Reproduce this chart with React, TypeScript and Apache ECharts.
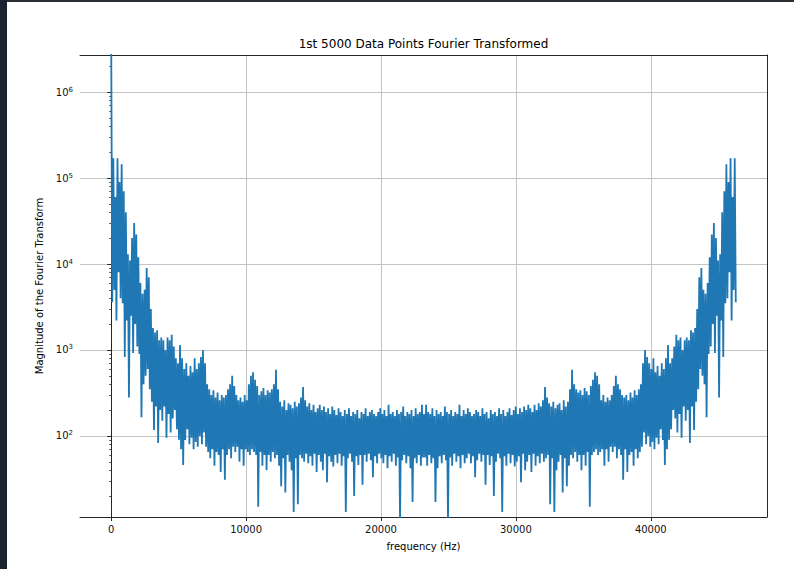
import React, { useEffect, useRef } from "react";
import * as echarts from "echarts";

// Frequency resolution of one FFT bin (Hz); bin i sits at i * BIN_HZ
const BIN_HZ = 46300 / 599;

// |FFT| magnitudes, bin 0 (DC) .. 599
const spectrumBins0to99 = [
  3500000, 3600, 170000, 5000, 60000, 2200, 170000, 8000, 90000, 4000,
  145000, 3500, 70000, 830, 40000, 2200, 13000, 280, 11000, 2500,
  20000, 920, 30000, 2000, 22000, 1100, 12000, 900, 6000, 165,
  4500, 400, 5000, 500, 9000, 600, 7000, 350, 3000, 250,
  1800, 117, 1600, 220, 1700, 83, 1300, 200, 1400, 150,
  1300, 220, 1000, 95, 1400, 180, 1300, 110, 1500, 160,
  1100, 200, 800, 120, 700, 90, 1140, 70, 800, 46,
  600, 90, 700, 120, 500, 80, 650, 95, 550, 70,
  800, 85, 600, 75, 700, 100, 830, 80, 1000, 110,
  700, 75, 400, 65, 350, 55, 300, 70, 340, 45,
];
const spectrumBins100to199 = [
  280, 65, 320, 60, 260, 38, 300, 70, 280, 31,
  300, 60, 350, 70, 400, 55, 500, 75, 380, 65,
  300, 75, 260, 50, 280, 70, 250, 45, 300, 70,
  260, 65, 400, 60, 500, 70, 550, 65, 450, 60,
  380, 15, 300, 65, 330, 45, 360, 60, 300, 40,
  340, 60, 320, 50, 350, 65, 400, 55, 590, 60,
  350, 45, 250, 26, 220, 55, 260, 22, 200, 60,
  240, 50, 230, 40, 210, 13, 250, 55, 220, 16,
  240, 60, 280, 55, 370, 50, 260, 62, 220, 48,
  240, 58, 200, 45, 230, 62, 190, 38, 210, 60,
];
const spectrumBins200to300 = [
  230, 50, 200, 40, 220, 62, 190, 29, 210, 58,
  180, 50, 220, 44, 200, 60, 175, 48, 210, 62,
  190, 45, 170, 58, 200, 13, 180, 55, 210, 62,
  170, 50, 190, 20, 180, 58, 200, 46, 160, 60,
  190, 27, 180, 60, 210, 50, 170, 62, 190, 52,
  200, 33, 180, 58, 170, 48, 190, 62, 210, 55,
  180, 48, 200, 60, 170, 42, 230, 58, 180, 50,
  190, 62, 170, 45, 200, 56, 180, 10, 190, 52,
  220, 60, 170, 48, 190, 58, 180, 42, 200, 17,
  170, 55, 210, 48, 180, 60, 190, 45, 230, 56,
  180,
];
const spectrumBins301to400 = [
  56, 230, 45, 190, 60, 180, 48, 210, 55, 170,
  17, 200, 42, 180, 58, 190, 48, 170, 60, 220,
  52, 190, 10, 180, 56, 200, 45, 170, 62, 190,
  50, 180, 58, 230, 42, 170, 60, 200, 48, 180,
  55, 210, 62, 190, 48, 170, 58, 180, 33, 200,
  52, 190, 62, 170, 50, 210, 60, 180, 27, 190,
  60, 160, 46, 200, 58, 180, 20, 190, 50, 170,
  62, 210, 55, 180, 13, 200, 58, 170, 45, 190,
  62, 210, 48, 175, 60, 200, 44, 220, 50, 180,
  58, 210, 29, 190, 62, 220, 40, 200, 50, 230,
];
const spectrumBins401to500 = [
  60, 210, 38, 190, 62, 230, 45, 200, 58, 240,
  48, 220, 62, 260, 50, 370, 55, 280, 60, 240,
  16, 220, 55, 250, 13, 210, 40, 230, 50, 240,
  60, 200, 22, 260, 55, 220, 26, 250, 45, 350,
  60, 590, 55, 400, 65, 350, 50, 320, 60, 340,
  40, 300, 60, 360, 45, 330, 65, 300, 15, 380,
  60, 450, 65, 550, 70, 500, 60, 400, 65, 260,
  70, 300, 45, 250, 70, 280, 50, 260, 75, 300,
  65, 380, 75, 500, 55, 400, 70, 350, 60, 300,
  31, 280, 70, 300, 38, 260, 60, 320, 65, 280,
];
const spectrumBins501to599 = [
  45, 340, 70, 300, 55, 350, 65, 400, 75, 700,
  110, 1000, 80, 830, 100, 700, 75, 600, 85, 800,
  70, 550, 95, 650, 80, 500, 120, 700, 90, 600,
  46, 800, 70, 1140, 90, 700, 120, 800, 200, 1100,
  160, 1500, 110, 1300, 180, 1400, 95, 1000, 220, 1300,
  150, 1400, 200, 1300, 83, 1700, 220, 1600, 117, 1800,
  250, 3000, 350, 7000, 600, 9000, 500, 5000, 400, 4500,
  165, 6000, 900, 12000, 1100, 22000, 2000, 30000, 920, 20000,
  2500, 11000, 280, 13000, 2200, 40000, 830, 70000, 3500, 145000,
  4000, 90000, 8000, 170000, 2200, 60000, 5000, 170000, 3600,
];

const X_TICKS = [0, 10000, 20000, 30000, 40000];
const X_RANGE = [-2315, 48615];
const Y_TICKS = [100, 1000, 10000, 100000, 1000000];
const Y_MINOR_TICKS = [
  20, 30, 40, 50, 60, 70, 80, 90,
  200, 300, 400, 500, 600, 700, 800, 900,
  2000, 3000, 4000, 5000, 6000, 7000, 8000, 9000,
  20000, 30000, 40000, 50000, 60000, 70000, 80000, 90000,
  200000, 300000, 400000, 500000, 600000, 700000, 800000, 900000,
  2000000,
];
const Y_RANGE = [11.4, 2700000];

const TITLE = "1st 5000 Data Points Fourier Transformed";
const X_NAME = "frequency (Hz)";
const Y_NAME = "Magnitude of the Fourier Transform";

const FONT = "DejaVu Sans";

export default function App() {
  const ref = useRef<HTMLDivElement>(null);

  useEffect(() => {
    if (!ref.current) return;
    const chart = echarts.init(ref.current, undefined, { renderer: "svg" });
    const mags = [
      ...spectrumBins0to99,
      ...spectrumBins100to199,
      ...spectrumBins200to300,
      ...spectrumBins301to400,
      ...spectrumBins401to500,
      ...spectrumBins501to599,
    ];
    const data = mags.map((m, i) => [i * BIN_HZ, m]);

    const frameLine = { show: true, lineStyle: { color: "#262626", width: 1 } };

    chart.setOption({
      animation: false,
      backgroundColor: "#ffffff",
      textStyle: { fontFamily: FONT },
      grid: { left: 80, right: 27, top: 55, bottom: 52 },
      graphic: [
        {
          type: "text",
          x: 423.5,
          y: 44,
          style: {
            text: TITLE,
            fontFamily: FONT,
            fontSize: 12,
            fill: "#000",
            textAlign: "center",
            textVerticalAlign: "middle",
          },
        },
      ],
      xAxis: [
        {
          type: "value",
          min: X_RANGE[0],
          max: X_RANGE[1],
          name: X_NAME,
          nameLocation: "middle",
          nameGap: 24,
          nameTextStyle: { fontFamily: FONT, fontSize: 10, color: "#000" },
          axisLine: frameLine,
          axisTick: {
            show: true,
            inside: false,
            length: 4,
            customValues: X_TICKS,
            lineStyle: { color: "#262626", width: 1 },
          },
          axisLabel: {
            customValues: X_TICKS,
            formatter: (v: number) => String(v),
            fontFamily: FONT,
            fontSize: 10,
            color: "#111",
            margin: 7,
          },
          splitLine: { show: true, lineStyle: { color: "#c4c4c4", width: 1 } },
        },
        {
          type: "value",
          position: "top",
          min: X_RANGE[0],
          max: X_RANGE[1],
          axisLine: frameLine,
          axisTick: { show: false },
          axisLabel: { show: false },
          splitLine: { show: false },
        },
      ],
      yAxis: [
        {
          type: "log",
          logBase: 10,
          min: Y_RANGE[0],
          max: Y_RANGE[1],
          name: Y_NAME,
          nameLocation: "middle",
          nameRotate: 90,
          nameGap: 24,
          nameTextStyle: { fontFamily: FONT, fontSize: 10, color: "#000" },
          axisLine: frameLine,
          axisTick: {
            show: true,
            inside: false,
            length: 4,
            customValues: Y_TICKS,
            lineStyle: { color: "#262626", width: 1 },
          },
          axisLabel: {
            customValues: Y_TICKS,
            margin: 7,
            formatter: (v: number) => `{b|10}{s|${Math.round(Math.log10(v))}}`,
            rich: {
              b: { fontFamily: FONT, fontSize: 10, color: "#111", lineHeight: 12 },
              s: {
                fontFamily: FONT,
                fontSize: 7,
                color: "#111",
                verticalAlign: "top",
                lineHeight: 8,
                padding: [0, 0, 3, 0],
              },
            },
          },
          splitLine: { show: true, lineStyle: { color: "#c4c4c4", width: 1 } },
        },
        {
          type: "log",
          logBase: 10,
          min: Y_RANGE[0],
          max: Y_RANGE[1],
          position: "left",
          axisLine: { show: false },
          axisTick: {
            show: true,
            inside: false,
            length: 2,
            customValues: Y_MINOR_TICKS,
            lineStyle: { color: "#262626", width: 0.8 },
          },
          axisLabel: { show: false },
          splitLine: { show: false },
        },
        {
          type: "value",
          position: "right",
          min: 0,
          max: 1,
          axisLine: frameLine,
          axisTick: { show: false },
          axisLabel: { show: false },
          splitLine: { show: false },
        },
      ],
      series: [
        {
          type: "line",
          data,
          xAxisIndex: 0,
          yAxisIndex: 0,
          showSymbol: false,
          symbol: "none",
          clip: true,
          lineStyle: { color: "#1f77b4", width: 1.8 },
          z: 3,
        },
      ],
    });
    return () => chart.dispose();
  }, []);

  return (
    <div style={{ position: "fixed", left: 0, top: 0, width: 794, height: 569, background: "#fff" }}>
      <div ref={ref} style={{ position: "absolute", left: 0, top: 0, width: 794, height: 569 }} />
      <div style={{ position: "absolute", left: 0, top: 0, width: 794, height: 2, background: "#2a2e35" }} />
      <div style={{ position: "absolute", left: 0, top: 0, width: 7, height: 569, background: "#1b2230" }} />
    </div>
  );
}
